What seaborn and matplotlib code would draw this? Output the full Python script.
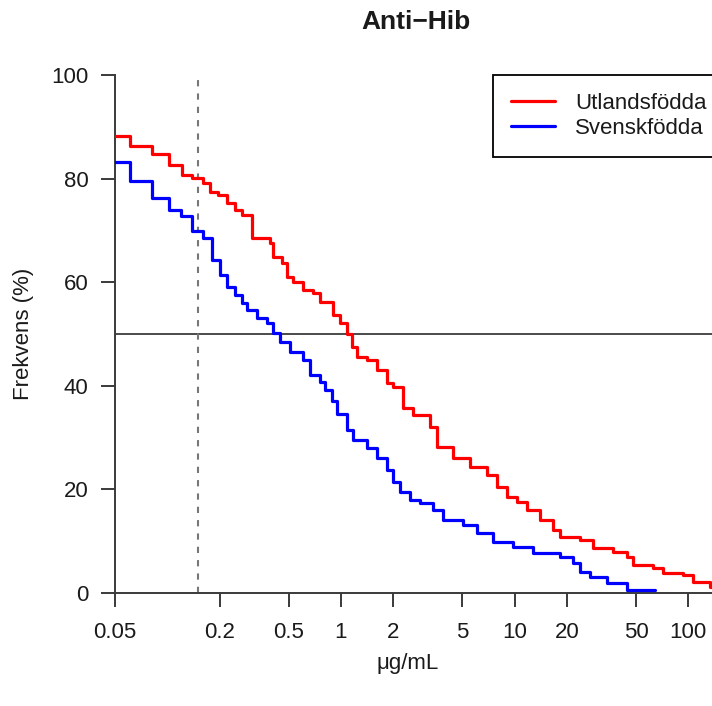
import matplotlib
matplotlib.use("Agg")
import matplotlib.pyplot as plt
from matplotlib.ticker import NullLocator, FixedLocator, FixedFormatter
import seaborn as sns
import pandas as pd

# ---- data ----
red_label = "Utlandsfödda"
blue_label = "Svenskfödda"

red_x = [0.05, 0.061, 0.082, 0.102, 0.122, 0.139, 0.161, 0.176, 0.196, 0.221,
         0.245, 0.269, 0.307, 0.390, 0.406, 0.457, 0.489, 0.529, 0.604, 0.690,
         0.757, 0.899, 0.987, 1.083, 1.16, 1.24, 1.41, 1.61, 1.84, 1.99,
         2.28, 2.60, 3.25, 3.57, 4.41, 5.53, 6.93, 7.91, 9.03, 10.3,
         11.8, 14.0, 16.6, 18.2, 23.8, 28.2, 36.8, 44.3, 48.0, 62.6,
         71.4, 93.1, 106, 133, 150]
red_y = [88.3, 86.3, 84.7, 82.6, 80.7, 80.2, 79.2, 77.4, 76.8, 75.3,
         73.9, 73.0, 68.5, 67.6, 64.9, 63.7, 61.0, 60.0, 58.5, 57.9,
         56.2, 53.7, 52.1, 50.0, 47.5, 45.6, 45.0, 43.0, 40.5, 39.8,
         35.8, 34.4, 32.0, 28.2, 26.0, 24.4, 22.8, 20.5, 18.5, 17.6,
         16.0, 14.1, 12.2, 10.8, 10.2, 8.6, 7.9, 7.0, 5.4, 4.8,
         3.9, 3.5, 2.1, 1.2, 1.2]

blue_x = [0.05, 0.061, 0.082, 0.102, 0.120, 0.139, 0.161, 0.181, 0.201, 0.221,
          0.245, 0.27, 0.288, 0.328, 0.375, 0.406, 0.446, 0.508, 0.604, 0.663,
          0.757, 0.809, 0.888, 0.95, 1.083, 1.17, 1.41, 1.61, 1.84, 1.99, 2.19,
          2.50, 2.85, 3.39, 3.87, 5.04, 6.07, 7.50, 9.78, 12.7, 18.2,
          21.7, 23.8, 27.2, 34.0, 44.3, 64.3]
blue_y = [83.2, 79.5, 76.3, 73.9, 72.8, 69.9, 68.5, 64.3, 61.4, 59.1,
          57.5, 56.0, 54.6, 53.1, 52.1, 50.2, 48.5, 46.5, 45.0, 42.1,
          40.7, 39.2, 37.0, 34.5, 31.5, 29.5, 28.0, 26.0, 23.7, 21.5, 19.5,
          18.0, 17.4, 16.0, 14.1, 13.1, 11.6, 9.8, 8.9, 7.7, 7.0,
          5.8, 4.1, 3.1, 1.9, 0.6, 0.6]

x_ticks = [0.05, 0.2, 0.5, 1, 2, 5, 10, 20, 50, 100]
x_tick_labels = ["0.05", "0.2", "0.5", "1", "2", "5", "10", "20", "50", "100"]
y_ticks = [0, 20, 40, 60, 80, 100]
y_tick_labels = ["0", "20", "40", "60", "80", "100"]
threshold = 0.15
median_line = 50

title = "Anti\u2212Hib"
xlabel = "\u03bcg/mL"
ylabel = "Frekvens (%)"

# ---- styling ----
sns.set_theme(style="white")
plt.rcParams["font.family"] = ["Liberation Sans", "DejaVu Sans"]

W, H = 712, 706
fig = plt.figure(figsize=(W / 100, H / 100), dpi=100)
ax = fig.add_axes([115 / W, 113 / H, (W - 115) / W, 518 / H])

df = pd.concat([
    pd.DataFrame({"x": red_x, "y": red_y, "grupp": red_label}),
    pd.DataFrame({"x": blue_x, "y": blue_y, "grupp": blue_label}),
], ignore_index=True)

axis_col = "#3a3a3a"

ax.axhline(median_line, color="#4a4a4a", linewidth=1.4, zorder=1)
ax.axvline(threshold, color="#777777", linewidth=1.5,
           linestyle=(0, (3.0, 3.4)), zorder=1)

sns.lineplot(data=df, x="x", y="y", hue="grupp",
             palette={red_label: "#FF0000", blue_label: "#0000FF"},
             estimator=None, sort=False, drawstyle="steps-post",
             linewidth=2.3, ax=ax, zorder=3)

ax.set_xscale("log")
ax.set_xlim(0.05, 136.8)
ax.set_ylim(0, 100)
ax.xaxis.set_major_locator(FixedLocator(x_ticks))
ax.xaxis.set_major_formatter(FixedFormatter(x_tick_labels))
ax.xaxis.set_minor_locator(NullLocator())
ax.yaxis.set_major_locator(FixedLocator(y_ticks))
ax.yaxis.set_major_formatter(FixedFormatter(y_tick_labels))

for s in ["top", "right"]:
    ax.spines[s].set_visible(False)
for s in ["left", "bottom"]:
    ax.spines[s].set_color(axis_col)
    ax.spines[s].set_linewidth(1.4)

ax.tick_params(axis="both", which="major", direction="out", length=10,
               width=1.4, color=axis_col, labelsize=16,
               labelcolor="#1a1a1a", bottom=True, left=True)
ax.tick_params(axis="x", pad=11)
ax.tick_params(axis="y", pad=9)

ax.set_xlabel(xlabel, fontsize=16, color="#1a1a1a", va="center")
ax.xaxis.set_label_coords((408 - 115) / (W - 115), -(663 - 593) / 518)
ax.set_ylabel(ylabel, fontsize=16, color="#1a1a1a", va="center")
ax.yaxis.set_label_coords((23 - 115) / (W - 115), (593 - 334) / 518)

fig.text(416 / W, 1 - 22 / H, title, ha="center", va="center",
         fontsize=19, fontweight="bold", color="#1a1a1a")

handles, labels = ax.get_legend_handles_labels()
leg = ax.legend(handles, labels, loc="upper left",
                bbox_to_anchor=(493 / W, 1 - 75 / H),
                bbox_transform=fig.transFigure, borderaxespad=0,
                frameon=True, fancybox=False, framealpha=1,
                edgecolor="black", handlelength=2.0, handletextpad=0.9,
                borderpad=0.8, labelspacing=0.2, fontsize=16)
leg.get_frame().set_linewidth(1.3)
for t in leg.get_texts():
    t.set_color("#1a1a1a")
for l in leg.get_lines():
    l.set_linewidth(2.3)

fig.savefig("out.png", dpi=100)
